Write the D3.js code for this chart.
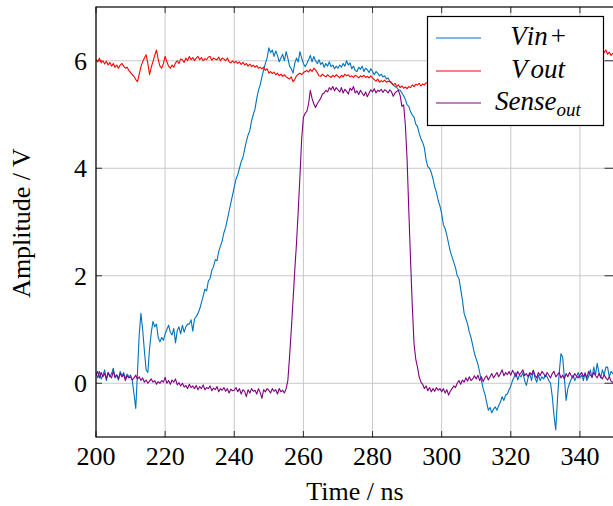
<!DOCTYPE html>
<html>
<head>
<meta charset="utf-8">
<script src="https://cdn.jsdelivr.net/npm/d3@7"></script>
<style>
  body { margin: 0; background: #fff; }
  svg { display: block; }
</style>
</head>
<body>
<script>
// scope capture, sampled every 0.5 ns from 200 ns
var tStart = 200, tStep = 0.5;

var vinPlus = [
  0.18, 0.10, 0.22, 0.08, 0.15, 0.25, 0.05, 0.20, 0.12, 0.18, 0.28, 0.10, 0.16, 0.06, 0.22, 0.14, 0.20, 0.08, 0.17, 0.12,
  0.15, 0.05, -0.20, -0.47, 0.20, 0.90, 1.30, 1.00, 0.60, 0.25, 0.20, 0.65, 0.95, 1.15, 1.05, 1.10, 0.85, 0.77, 0.85, 0.80,
  0.92, 1.00, 1.08, 0.95, 0.90, 1.02, 0.75, 0.98, 1.05, 0.92, 1.08, 0.95, 1.05, 1.10, 1.10, 1.18, 0.97, 1.20, 1.24, 1.30,
  1.38, 1.50, 1.62, 1.75, 1.72, 1.90, 1.95, 2.10, 2.17, 2.30, 2.28, 2.45, 2.55, 2.65, 2.80, 2.90, 3.05, 3.20, 3.35, 3.50,
  3.65, 3.80, 3.88, 4.00, 4.12, 4.20, 4.35, 4.50, 4.62, 4.70, 4.88, 5.00, 5.10, 5.30, 5.45, 5.55, 5.70, 5.83, 5.95, 6.05,
  6.24, 6.15, 6.20, 6.08, 6.18, 6.10, 5.98, 6.05, 6.12, 6.00, 6.17, 6.05, 5.90, 5.85, 5.77, 5.95, 6.05, 5.98, 6.17, 6.05,
  5.95, 5.89, 5.95, 6.02, 6.10, 5.98, 6.08, 6.00, 5.95, 6.02, 5.93, 5.97, 5.88, 5.95, 5.90, 5.98, 5.89, 5.92, 5.85, 5.90,
  5.86, 5.92, 5.88, 5.95, 5.90, 6.00, 5.92, 5.96, 5.85, 5.90, 5.82, 5.80, 5.88, 5.84, 5.90, 5.80, 5.86, 5.83, 5.78, 5.85,
  5.80, 5.74, 5.80, 5.77, 5.72, 5.75, 5.70, 5.72, 5.66, 5.68, 5.62, 5.60, 5.55, 5.52, 5.50, 5.46, 5.45, 5.40, 5.35, 5.28,
  5.18, 5.15, 5.05, 4.99, 4.95, 4.82, 4.78, 4.65, 4.55, 4.48, 4.38, 4.15, 4.03, 4.00, 3.92, 3.80, 3.65, 3.55, 3.40, 3.30,
  3.15, 2.95, 2.88, 2.75, 2.60, 2.45, 2.35, 2.25, 2.15, 2.00, 1.95, 1.75, 1.55, 1.30, 1.20, 1.10, 0.95, 0.85, 0.70, 0.55,
  0.45, 0.35, 0.20, 0.05, -0.10, -0.20, -0.35, -0.50, -0.45, -0.55, -0.48, -0.44, -0.50, -0.42, -0.35, -0.25, -0.32, -0.22, -0.20, -0.12,
  -0.05, 0.05, 0.12, 0.20, 0.06, 0.15, 0.12, 0.20, 0.05, -0.04, 0.10, 0.18, 0.05, 0.24, 0.10, 0.02, 0.15, 0.05, 0.12, 0.08,
  0.15, 0.12, 0.05, 0.00, -0.25, -0.60, -0.87, -0.30, 0.18, 0.55, 0.49, 0.10, -0.32, -0.10, 0.00, 0.08, 0.15, 0.05, 0.12, 0.20,
  0.10, 0.15, 0.05, 0.20, 0.05, 0.12, 0.25, 0.10, 0.30, 0.15, 0.37, 0.20, 0.10, 0.25, 0.15, 0.30, 0.30, 0.12, 0.22, 0.18,
  0.20
];

var vOut = [
  6.02, 5.98, 6.05, 5.96, 6.00, 5.94, 5.99, 5.92, 5.97, 5.90, 5.95, 5.88, 5.92, 5.86, 5.92, 5.95, 5.90, 5.86, 5.88, 5.82,
  5.78, 5.74, 5.71, 5.65, 5.61, 5.75, 5.89, 5.98, 6.05, 6.11, 5.95, 5.74, 5.88, 5.99, 6.10, 6.20, 6.02, 5.90, 5.86, 5.95,
  6.08, 5.98, 5.90, 5.86, 5.92, 5.88, 5.96, 6.00, 5.95, 6.03, 6.02, 5.97, 6.05, 6.00, 6.08, 6.02, 6.06, 6.00, 6.05, 6.08,
  6.02, 6.06, 6.00, 6.04, 6.02, 6.07, 6.08, 6.01, 6.05, 6.03, 6.02, 6.07, 6.00, 6.05, 6.03, 6.00, 6.05, 5.98, 5.96, 6.00,
  5.96, 5.99, 5.95, 5.98, 5.93, 5.97, 5.92, 5.95, 5.90, 5.94, 5.89, 5.92, 5.88, 5.91, 5.86, 5.88, 5.85, 5.88, 5.82, 5.85,
  5.77, 5.80, 5.76, 5.79, 5.74, 5.77, 5.72, 5.75, 5.71, 5.74, 5.70, 5.68, 5.66, 5.70, 5.61, 5.65, 5.72, 5.75, 5.77, 5.74,
  5.78, 5.80, 5.82, 5.79, 5.84, 5.80, 5.86, 5.83, 5.78, 5.72, 5.71, 5.75, 5.72, 5.70, 5.74, 5.71, 5.69, 5.73, 5.70, 5.74,
  5.71, 5.68, 5.73, 5.70, 5.75, 5.72, 5.74, 5.70, 5.72, 5.69, 5.73, 5.71, 5.68, 5.72, 5.70, 5.73, 5.69, 5.71, 5.68, 5.72,
  5.68, 5.65, 5.62, 5.66, 5.60, 5.63, 5.61, 5.64, 5.60, 5.62, 5.61, 5.58, 5.55, 5.58, 5.52, 5.55, 5.50, 5.53, 5.49, 5.51,
  5.48, 5.52, 5.50, 5.55, 5.52, 5.56, 5.55, 5.58, 5.53, 5.57, 5.55, 5.59, 5.58, 5.60, 5.62, 5.60, 5.63, 5.61, 5.64, 5.66,
  5.66, 5.68, 5.70, 5.69, 5.72, 5.74, 5.73, 5.76, 5.78, 5.77, 5.80, 5.81, 5.83, 5.82, 5.85, 5.87, 5.86, 5.88, 5.90, 5.89,
  5.92, 5.93, 5.95, 5.94, 5.96, 5.98, 5.97, 6.00, 6.01, 6.00, 6.02, 6.03, 6.02, 6.04, 6.05, 6.04, 6.06, 6.05, 6.07, 6.06,
  6.08, 6.07, 6.10, 6.08, 6.11, 6.09, 6.12, 6.10, 6.13, 6.11, 6.14, 6.12, 6.15, 6.18, 6.12, 6.16, 6.10, 6.14, 6.08, 6.13,
  6.10, 6.14, 6.11, 6.16, 6.12, 6.15, 6.11, 6.17, 6.13, 6.15, 6.12, 6.18, 6.14, 6.16, 6.12, 6.19, 6.13, 6.16, 6.12, 6.15,
  6.13, 6.16, 6.12, 6.18, 6.14, 6.20, 6.13, 6.16, 6.11, 6.18, 6.14, 6.12, 6.17, 6.13, 6.15, 6.20, 6.12, 6.16, 6.10, 6.14,
  6.11
];

var senseOut = [
  0.15, 0.22, 0.10, 0.20, 0.12, 0.18, 0.08, 0.20, 0.14, 0.10, 0.22, 0.12, 0.15, 0.08, 0.18, 0.12, 0.16, 0.05, 0.14, 0.10,
  0.12, 0.06, 0.10, 0.15, 0.08, 0.12, 0.05, 0.10, 0.02, 0.06, 0.00, 0.04, 0.08, 0.02, 0.05, -0.02, 0.03, 0.00, 0.05, 0.02,
  0.11, 0.00, 0.05, -0.02, 0.06, 0.02, 0.08, -0.03, 0.01, -0.05, 0.00, -0.07, -0.04, -0.10, -0.02, -0.08, -0.05, -0.10, -0.04, -0.12,
  -0.06, -0.10, -0.03, -0.12, -0.08, -0.10, -0.05, -0.14, -0.09, -0.12, -0.06, -0.16, -0.10, -0.13, -0.08, -0.15, -0.10, -0.18, -0.11, -0.14,
  -0.13, -0.08, -0.16, -0.10, -0.20, -0.12, -0.15, -0.25, -0.12, -0.18, -0.10, -0.15, -0.13, -0.20, -0.10, -0.17, -0.28, -0.12, -0.16, -0.10,
  -0.13, -0.18, -0.10, -0.15, -0.12, -0.20, -0.10, -0.16, -0.13, -0.18, -0.10, 0.05, 0.50, 1.00, 1.54, 2.10, 2.60, 3.20, 3.85, 4.55,
  4.95, 5.02, 5.06, 5.20, 5.45, 5.30, 5.20, 5.13, 5.20, 5.25, 5.30, 5.38, 5.40, 5.45, 5.42, 5.50, 5.46, 5.52, 5.44, 5.50,
  5.46, 5.42, 5.50, 5.40, 5.47, 5.43, 5.38, 5.49, 5.45, 5.52, 5.40, 5.44, 5.37, 5.45, 5.40, 5.35, 5.42, 5.33, 5.40, 5.46,
  5.42, 5.48, 5.40, 5.45, 5.43, 5.47, 5.41, 5.46, 5.44, 5.40, 5.46, 5.42, 5.34, 5.40, 5.43, 5.45, 5.35, 5.15, 5.18, 4.80,
  4.16, 3.20, 2.29, 1.45, 0.74, 0.45, 0.30, 0.12, 0.02, -0.02, -0.10, -0.05, -0.14, -0.08, -0.16, -0.10, -0.15, -0.08, -0.13, -0.10,
  -0.16, -0.10, -0.18, -0.12, -0.22, -0.15, -0.10, -0.05, -0.08, 0.00, 0.05, -0.02, 0.06, 0.02, 0.10, 0.04, 0.12, 0.05, 0.08, 0.14,
  0.08, 0.15, 0.05, 0.12, 0.03, 0.10, 0.14, 0.06, 0.12, 0.18, 0.10, 0.15, 0.20, 0.12, 0.18, 0.25, 0.14, 0.20, 0.16, 0.22,
  0.15, 0.24, 0.18, 0.12, 0.22, 0.16, 0.20, 0.25, 0.14, 0.18, 0.12, 0.20, 0.16, 0.24, 0.15, 0.10, 0.20, 0.14, 0.22, 0.18,
  0.12, 0.20, 0.15, 0.10, 0.18, 0.22, 0.12, 0.16, 0.20, 0.10, 0.15, 0.08, 0.18, 0.12, 0.20, 0.14, 0.10, 0.18, 0.13, 0.10,
  0.16, 0.20, 0.12, 0.18, 0.10, 0.22, 0.15, 0.12, 0.20, 0.14, 0.10, 0.18, 0.12, 0.08, 0.16, 0.10, 0.06, 0.12, 0.04, 0.02,
  0.02
];

var xTicks = [200, 220, 240, 260, 280, 300, 320, 340];
var yTicks = [0, 2, 4, 6];

var W = 613, H = 506;
var pLeft = 96, pTop = 7, pRight = 614.5, pBottom = 437;
var font = "'Liberation Serif', 'DejaVu Serif', serif";

var svg = d3.select("body").append("svg")
    .attr("width", W)
    .attr("height", H);

var x = d3.scaleLinear().domain([200, 350]).range([pLeft, pRight]);
var y = d3.scaleLinear().domain([-1, 7]).range([pBottom, pTop]);

// grid
svg.append("g").selectAll("line").data(xTicks).enter().append("line")
    .attr("x1", d => x(d)).attr("x2", d => x(d))
    .attr("y1", pTop).attr("y2", pBottom)
    .attr("stroke", "#c8c8c8").attr("stroke-width", 1);
svg.append("g").selectAll("line").data(yTicks).enter().append("line")
    .attr("x1", pLeft).attr("x2", pRight)
    .attr("y1", d => y(d)).attr("y2", d => y(d))
    .attr("stroke", "#c8c8c8").attr("stroke-width", 1);

// small inward ticks on every side
var tk = svg.append("g").attr("stroke", "#333").attr("stroke-width", 1);
xTicks.forEach(function(d){
    tk.append("line").attr("x1", x(d)).attr("x2", x(d)).attr("y1", pBottom).attr("y2", pBottom - 6);
    tk.append("line").attr("x1", x(d)).attr("x2", x(d)).attr("y1", pTop).attr("y2", pTop + 6);
});
yTicks.forEach(function(d){
    tk.append("line").attr("x1", pLeft).attr("x2", pLeft + 6).attr("y1", y(d)).attr("y2", y(d));
    tk.append("line").attr("x1", pRight - 10).attr("x2", pRight).attr("y1", y(d)).attr("y2", y(d));
});

svg.append("clipPath").attr("id", "plotclip")
  .append("rect").attr("x", pLeft).attr("y", pTop)
    .attr("width", pRight - pLeft).attr("height", pBottom - pTop);

var line = d3.line()
    .x((d, i) => x(tStart + i * tStep))
    .y(d => y(d));

var series = [
    {name: "vin", values: vinPlus, color: "#0072bd"},
    {name: "vout", values: vOut, color: "#ff0000"},
    {name: "sense", values: senseOut, color: "#800080"}
];

var plot = svg.append("g").attr("clip-path", "url(#plotclip)");
series.forEach(function(s){
    plot.append("path")
        .datum(s.values)
        .attr("d", line)
        .attr("fill", "none")
        .attr("stroke", s.color)
        .attr("stroke-width", 1.1)
        .attr("stroke-linejoin", "round");
});

// frame
svg.append("rect")
    .attr("x", pLeft).attr("y", pTop)
    .attr("width", pRight - pLeft).attr("height", pBottom - pTop)
    .attr("fill", "none").attr("stroke", "#000").attr("stroke-width", 1.2);

// tick labels
svg.append("g").selectAll("text").data(xTicks).enter().append("text")
    .attr("x", d => x(d)).attr("y", 465)
    .attr("text-anchor", "middle")
    .style("font-family", font).style("font-size", "26px")
    .text(d => d);
svg.append("g").selectAll("text").data(yTicks).enter().append("text")
    .attr("x", 87).attr("y", d => y(d)).attr("dy", "0.34em")
    .attr("text-anchor", "end")
    .style("font-family", font).style("font-size", "26px")
    .text(d => d);

// axis titles
svg.append("text")
    .attr("x", 355).attr("y", 500)
    .attr("text-anchor", "middle")
    .style("font-family", font).style("font-size", "26px")
    .text("Time / ns");
svg.append("text")
    .attr("transform", "translate(30,223) rotate(-90)")
    .attr("text-anchor", "middle")
    .style("font-family", font).style("font-size", "26px")
    .text("Amplitude / V");

// legend
var lg = svg.append("g");
lg.append("rect")
    .attr("x", 427.5).attr("y", 16.5).attr("width", 176).attr("height", 109)
    .attr("fill", "#fff").attr("stroke", "#000").attr("stroke-width", 1.2);
var rows = [38, 71, 103];
series.forEach(function(s, i){
    lg.append("line")
        .attr("x1", 436).attr("x2", 481)
        .attr("y1", rows[i]).attr("y2", rows[i])
        .attr("stroke", s.color).attr("stroke-width", 1);
});
var t1 = lg.append("text").attr("x", 538).attr("y", 45).attr("text-anchor", "middle")
    .style("font-family", font).style("font-size", "27px");
t1.append("tspan").style("font-style", "italic").text("V");
t1.append("tspan").attr("dx", 2).style("font-style", "italic").text("in");
t1.append("tspan").attr("dx", 3).text("+");
var t2 = lg.append("text").attr("x", 538).attr("y", 78).attr("text-anchor", "middle")
    .style("font-family", font).style("font-size", "27px").style("font-style", "italic");
t2.append("tspan").text("V");
t2.append("tspan").attr("dx", 6).text("out");
var t3 = lg.append("text").attr("x", 538).attr("y", 110).attr("text-anchor", "middle")
    .style("font-family", font).style("font-size", "27px").style("font-style", "italic");
t3.append("tspan").text("Sense");
t3.append("tspan").attr("dy", 6).style("font-size", "19px").text("out");
</script>
</body>
</html>
